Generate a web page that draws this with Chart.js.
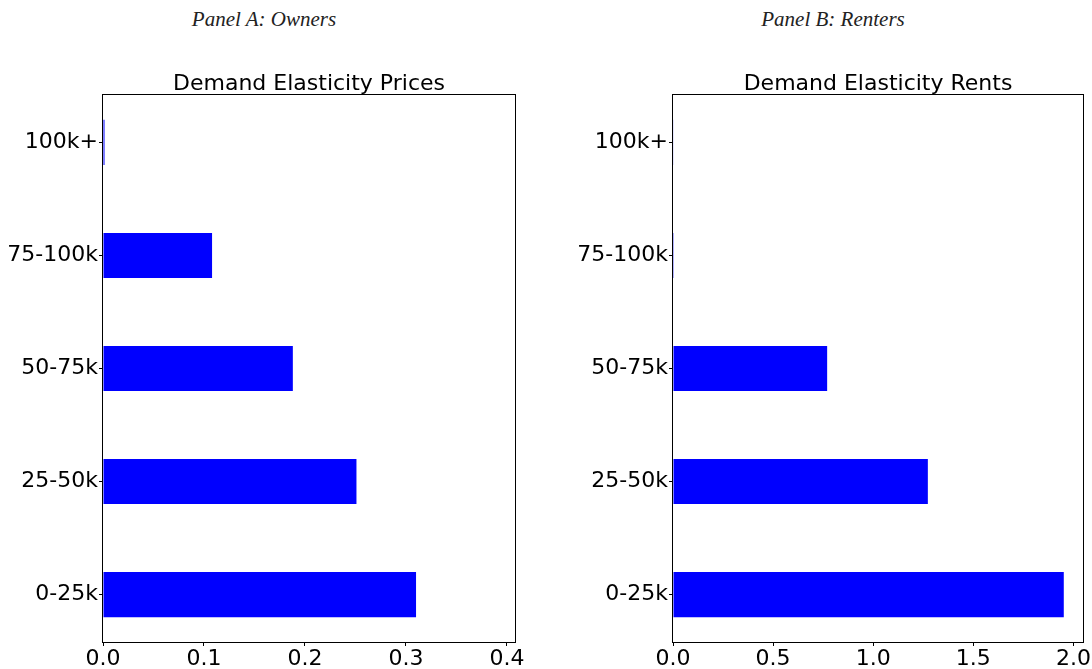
<!DOCTYPE html>
<html>
<head>
<meta charset="utf-8">
<script src="https://cdn.jsdelivr.net/npm/chart.js@4.4.1/dist/chart.umd.min.js"></script>
<style>
  html, body { margin: 0; padding: 0; background: #fff; }
  body { width: 1092px; height: 669px; position: relative; overflow: hidden; }
  .panel { position: absolute; top: 0; width: 546px; height: 669px; }
  .panel canvas { display: block; }
  .ptitle {
    position: absolute; top: 9px;
    font-family: 'Liberation Serif', serif; font-style: italic;
    font-size: 21px; line-height: 21px; color: #222;
    white-space: nowrap; transform: translateX(-50%);
  }
</style>
</head>
<body>
<div class="ptitle" style="left:264px">Panel A: Owners</div>
<div class="ptitle" style="left:833px">Panel B: Renters</div>
<div class="panel" style="left:0"><canvas id="owners" width="546" height="669"></canvas></div>
<div class="panel" style="left:546px"><canvas id="renters" width="546" height="669"></canvas></div>

<script>
// Household income groups, bottom to top
const incomeGroups = ['0-25k', '25-50k', '50-75k', '75-100k', '100k+'];

// Demand elasticities by income group
const ownerElasticity  = [0.310, 0.251, 0.188, 0.108, 0.0015];
const renterElasticity = [1.952, 1.273, 0.770, 0.004, 0.003];

// Value-axis ticks and upper limits
const ownerTicks  = [0.0, 0.1, 0.2, 0.3, 0.4];
const renterTicks = [0.0, 0.5, 1.0, 1.5, 2.0];
const ownerMax  = 0.408;
const renterMax = 2.048;

// Group axis runs a little past the outer bars
const groupMin = -0.42;
const groupMax = 4.42;

const TICK_FONT = { family: 'DejaVu Sans', size: 22, weight: 'normal' };

// Box around the plotting area, drawn over the bars
const framePlugin = {
  id: 'frame',
  afterDatasetsDraw(chart) {
    const { ctx, chartArea: a } = chart;
    ctx.save();
    ctx.strokeStyle = '#000';
    ctx.lineWidth = 1;
    ctx.strokeRect(Math.round(a.left) - 0.5, Math.round(a.top) - 0.5,
                   Math.round(a.right - a.left) + 1, Math.round(a.bottom - a.top) + 1);
    ctx.restore();
  }
};

function makeChart(id, title, values, ticks, xMax, yAxisWidth, rightPad) {
  const ctx = document.getElementById(id).getContext('2d');
  return new Chart(ctx, {
    type: 'bar',
    data: {
      datasets: [{
        data: values.map((v, i) => ({ x: v, y: i })),
        backgroundColor: '#0000ff',
        borderWidth: 0,
        categoryPercentage: 1.0,
        barPercentage: 0.4
      }]
    },
    options: {
      responsive: false,
      animation: false,
      indexAxis: 'y',
      layout: { padding: { left: 0, right: rightPad, top: 0, bottom: 0 } },
      plugins: {
        legend: { display: false },
        tooltip: { enabled: false },
        title: {
          display: true,
          text: title,
          fullSize: false,
          color: '#000',
          font: { family: 'DejaVu Sans', size: 22, weight: 'normal', lineHeight: 1 },
          padding: { top: 73, bottom: 0 }
        }
      },
      scales: {
        x: {
          type: 'linear',
          min: 0,
          max: xMax,
          bounds: 'data',
          afterBuildTicks: s => { s.ticks = ticks.map(v => ({ value: v })); },
          afterFit: s => { s.height = 27; },
          border: { display: false },
          grid: { drawOnChartArea: false, drawTicks: true, tickLength: 4, color: '#000', lineWidth: 1 },
          ticks: {
            color: '#000', font: TICK_FONT, padding: 0,
            maxRotation: 0, autoSkip: false,
            callback: v => Number(v).toFixed(1)
          }
        },
        y: {
          type: 'linear',
          min: groupMin,
          max: groupMax,
          bounds: 'data',
          offset: false,
          afterDataLimits: s => { s.min = groupMin; s.max = groupMax; },
          afterBuildTicks: s => {
            s.min = groupMin; s.max = groupMax;
            s.ticks = incomeGroups.map((_, i) => ({ value: i }));
          },
          afterFit: s => { s.width = yAxisWidth; },
          border: { display: false },
          grid: { offset: false, drawOnChartArea: false, drawTicks: true, tickLength: 4, color: '#000', lineWidth: 1 },
          ticks: {
            color: '#000', font: TICK_FONT, padding: 1, autoSkip: false,
            callback: v => incomeGroups[Math.round(v)]
          }
        }
      }
    },
    plugins: [framePlugin]
  });
}

makeChart('owners', 'Demand Elasticity Prices', ownerElasticity, ownerTicks, ownerMax, 103, 31);
makeChart('renters', 'Demand Elasticity Rents', renterElasticity, renterTicks, renterMax, 127, 9);
</script>
</body>
</html>
